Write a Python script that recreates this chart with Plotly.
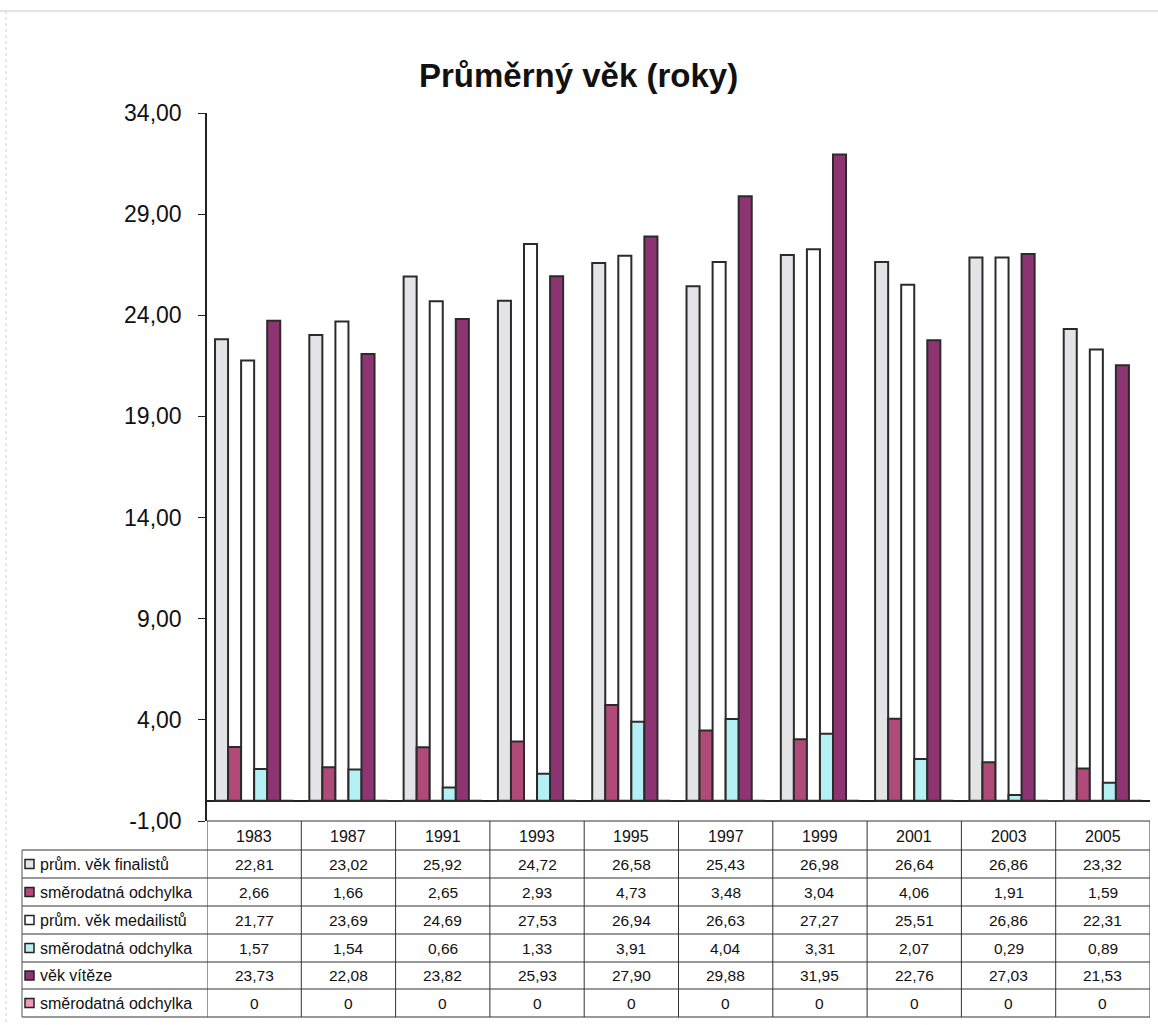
import plotly.graph_objects as go

# Categories (years of the championships)
years = ["1983", "1987", "1991", "1993", "1995", "1997", "1999", "2001", "2003", "2005"]

# Series values
prum_vek_finalistu = [22.81, 23.02, 25.92, 24.72, 26.58, 25.43, 26.98, 26.64, 26.86, 23.32]
odchylka_finalistu = [2.66, 1.66, 2.65, 2.93, 4.73, 3.48, 3.04, 4.06, 1.91, 1.59]
prum_vek_medailistu = [21.77, 23.69, 24.69, 27.53, 26.94, 26.63, 27.27, 25.51, 26.86, 22.31]
odchylka_medailistu = [1.57, 1.54, 0.66, 1.33, 3.91, 4.04, 3.31, 2.07, 0.29, 0.89]
vek_viteze = [23.73, 22.08, 23.82, 25.93, 27.90, 29.88, 31.95, 22.76, 27.03, 21.53]
odchylka_viteze = [0, 0, 0, 0, 0, 0, 0, 0, 0, 0]

# Y axis ticks
y_ticks = [-1, 4, 9, 14, 19, 24, 29, 34]

series = [
    ("prům. věk finalistů", prum_vek_finalistu, "#e4e4e6"),
    ("směrodatná odchylka", odchylka_finalistu, "#b04a78"),
    ("prům. věk medailistů", prum_vek_medailistu, "#ffffff"),
    ("směrodatná odchylka", odchylka_medailistu, "#b4f0f4"),
    ("věk vítěze", vek_viteze, "#8e3473"),
    ("směrodatná odchylka", odchylka_viteze, "#ee9ab8"),
]

W, H = 1158, 1025
FONT = "Liberation Sans, Arial, sans-serif"


def py(px):
    """Pixel row -> paper y."""
    return 1 - px / H


def px_x(px):
    return px / W


def fmt_dec(v):
    """Czech decimal format with comma and two decimals."""
    return f"{v:.2f}".replace(".", ",")


def fmt(v):
    if v == 0:
        return "0"
    return fmt_dec(v)


plot_left, plot_right = 207, 1150
plot_top, plot_bottom = 113, 821

fig = go.Figure()
for name, vals, color in series:
    fig.add_trace(go.Bar(
        x=years, y=vals, name=name,
        marker=dict(color=color, line=dict(color="#2b2b2b", width=2)),
        showlegend=False,
    ))

# Data table under the plot
row_edges = [821, 850, 878, 906, 934, 962, 989, 1017]
line_col = "#333333"
shapes = []
# horizontal lines across the data columns
for i, r in enumerate(row_edges):
    x0 = px_x(22) if i >= 1 else px_x(plot_left)
    shapes.append(dict(type="line", xref="paper", yref="paper",
                       x0=x0, x1=px_x(plot_right), y0=py(r), y1=py(r),
                       line=dict(color=line_col, width=1)))
# vertical lines at category boundaries
for k in range(len(years) + 1):
    shapes.append(dict(type="line", xref="x", yref="paper",
                       x0=k - 0.5, x1=k - 0.5, y0=py(row_edges[0]), y1=py(row_edges[-1]),
                       line=dict(color=line_col, width=1)))
# left edge of the legend column
shapes.append(dict(type="line", xref="paper", yref="paper",
                   x0=px_x(22), x1=px_x(22), y0=py(row_edges[1]), y1=py(row_edges[-1]),
                   line=dict(color="#555555", width=1)))

# faint outer frame of the chart sheet
shapes.append(dict(type="line", xref="paper", yref="paper",
                   x0=0, x1=1, y0=py(11), y1=py(11),
                   line=dict(color="#c8c8c8", width=1)))
shapes.append(dict(type="line", xref="paper", yref="paper",
                   x0=px_x(6), x1=px_x(6), y0=py(11), y1=py(1025),
                   line=dict(color="#d0d0d0", width=1, dash="dot")))

annotations = []
# year header row
for k, yr in enumerate(years):
    annotations.append(dict(x=k, y=py((row_edges[0] + row_edges[1]) / 2 + 1), xref="x", yref="paper",
                            xanchor="center", yanchor="middle",
                            text=yr, showarrow=False, font=dict(family=FONT, size=16, color="#111")))

for j, (name, vals, color) in enumerate(series):
    yc = py((row_edges[j + 1] + row_edges[j + 2]) / 2)
    for k, v in enumerate(vals):
        annotations.append(dict(x=k, y=yc, xref="x", yref="paper", text=fmt(v),
                                xanchor="center", yanchor="middle",
                                showarrow=False, font=dict(family=FONT, size=15.5, color="#111")))
    # legend key square
    shapes.append(dict(type="rect", xref="paper", yref="paper",
                       x0=px_x(25), x1=px_x(34), y0=yc - 4.5 / H, y1=yc + 4.5 / H,
                       fillcolor=color, line=dict(color="#222", width=1.5)))
    annotations.append(dict(x=px_x(38), y=yc, xref="paper", yref="paper", text=name,
                            xanchor="left", yanchor="middle", showarrow=False,
                            font=dict(family=FONT, size=16, color="#111")))

# chart title
annotations.append(dict(x=px_x(578), y=py(76), xref="paper", yref="paper",
                        xanchor="center", yanchor="middle",
                        text="<b>Průměrný věk (roky)</b>", showarrow=False,
                        font=dict(family=FONT, size=33, color="#111")))

fig.update_layout(
    width=W, height=H, autosize=False,
    margin=dict(l=0, r=0, t=0, b=0, pad=0, autoexpand=False),
    paper_bgcolor="white", plot_bgcolor="white",
    barmode="group", bargap=0.17, bargroupgap=0,
    xaxis=dict(domain=[px_x(plot_left), px_x(plot_right)], showticklabels=False,
               showline=False, showgrid=False, ticks="", range=[-0.5, len(years) - 0.5],
               automargin=False),
    yaxis=dict(domain=[py(plot_bottom), py(plot_top)], range=[-1, 34],
               tickmode="array", tickvals=y_ticks, ticktext=[fmt_dec(v) for v in y_ticks],
               showgrid=False,
               showline=True, linecolor="#222", linewidth=1.5,
               ticks="outside", ticklen=7, tickcolor="#222",
               zeroline=True, zerolinecolor="#222", zerolinewidth=1.5,
               tickfont=dict(family=FONT, size=23, color="#111"),
               ticklabelstandoff=12, automargin=False),
    shapes=shapes,
    annotations=annotations,
)

fig.write_html("out.html")
